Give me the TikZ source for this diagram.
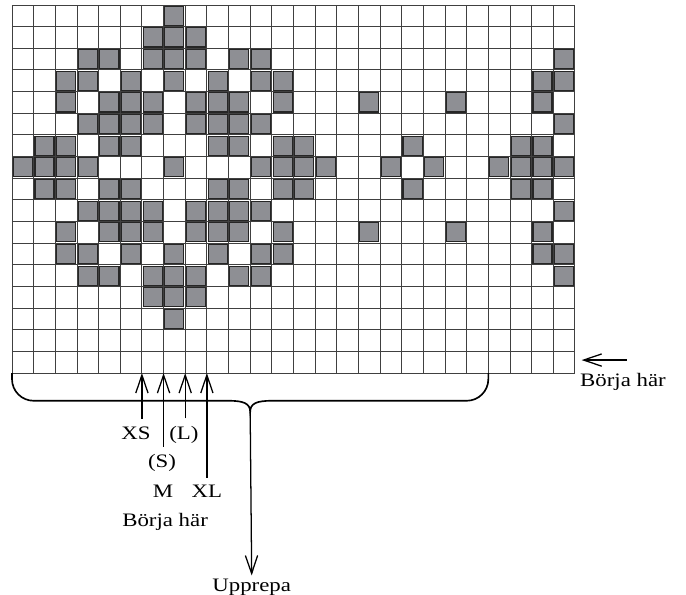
\documentclass[tikz,border=0pt]{standalone}
\usepackage{fontspec}
\setmainfont{Liberation Serif}[FakeStretch=1.2]
\usetikzlibrary{arrows.meta,positioning}
\definecolor{stitchgray}{RGB}{142,143,148}
\tikzset{
    gridline/.style={draw=black!75,line width=0.7pt},
    stitch/.style={draw=black!85,line width=0.9pt,fill=stitchgray},
    pointer/.style={-{Straight Barb[length=5mm,width=3.4mm]},line width=1pt},
    brace/.style={line width=1.3pt},
    sizetext/.style={font=\fontsize{15}{18}\selectfont,inner sep=2pt,outer sep=4pt,anchor=base}
}
\begin{document}
\begin{tikzpicture}[scale=0.6]
    \useasboundingbox (-0.554,-10.25) rectangle (31.13,17.23);
    \draw[gridline] (0,0) grid (26,17);
    \foreach \r/\cols in {0/{7},1/{6,7,8},2/{3,4,6,7,8,10,11,25},3/{2,3,5,7,9,11,12,24,25},
        4/{2,4,5,6,8,9,10,12,16,20,24},5/{3,4,5,6,8,9,10,11,25},6/{1,2,4,5,9,10,12,13,18,23,24},
        7/{0,1,2,3,7,11,12,13,14,17,19,22,23,24,25}}
        \foreach \c in \cols {
            \draw[stitch] (\c+0.06,16.06-\r) rectangle (\c+0.94,16.94-\r);
            \draw[stitch] (\c+0.06,2.06+\r) rectangle (\c+0.94,2.94+\r);
        }
    \foreach \x in {6,...,9}
        \coordinate (tip \x) at (\x,0);
    \node[sizetext] (xs) at (5.73,-3.05) {XS};
    \node[sizetext] (l) at (7.94,-3.05) {(L)};
    \node[sizetext] (s) at (6.93,-4.36) {(S)};
    \node[sizetext] (m) at (6.97,-5.76) {M};
    \node[sizetext] (xl) at (9,-5.76) {XL};
    \node[sizetext] (start size) at (7.07,-7.07) {Börja här};
    \draw[pointer] (xs.north -| tip 6) -- (tip 6);
    \draw[pointer] (s.north -| tip 7) -- (tip 7);
    \draw[pointer] (l.north -| tip 8) -- (tip 8);
    \draw[pointer] (xl.north -| tip 9) -- (tip 9);
    \coordinate (brace left) at (0,0);
    \coordinate (brace right) at (22,0);
    \coordinate (cusp) at (11,-1.8);
    \draw[brace] (brace left) -- (0,-0.28) arc[start angle=180,end angle=270,radius=1]
        -- (10,-1.28) .. controls (10.7,-1.28) and (11,-1.4) .. (cusp)
        .. controls (11,-1.4) and (11.3,-1.28) .. (12,-1.28)
        -- (21,-1.28) arc[start angle=270,end angle=360,radius=1] -- (brace right);
    \node[sizetext,outer sep=1pt] (repeat) at (11.07,-10.1) {Upprepa};
    \draw[pointer] (cusp) -- (repeat.north);
    \node[sizetext] (start row) at (28.22,-0.63) {Börja här};
    \coordinate (row tail) at (28.39,0.6);
    \coordinate (row tip) at (26.31,0.6);
    \draw[pointer] (row tail) -- (row tip);
\end{tikzpicture}
\end{document}
